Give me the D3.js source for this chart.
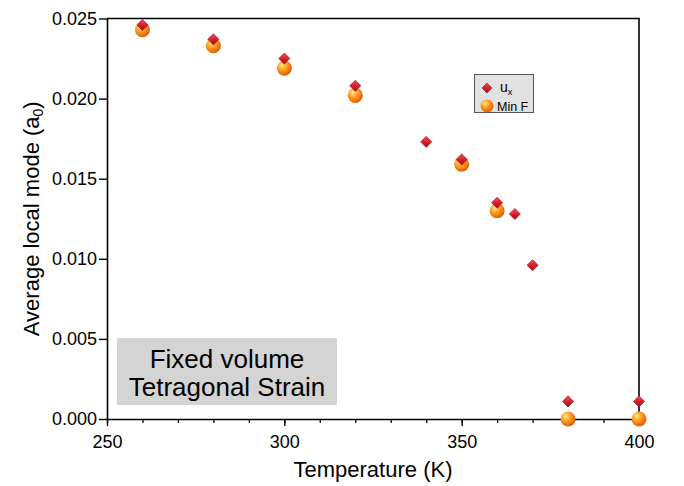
<!DOCTYPE html>
<html>
<head>
<meta charset="utf-8">
<script src="https://cdn.jsdelivr.net/npm/d3@7"></script>
<style>
    body { margin: 0; background: #fff; }
    svg text { font-family: Arial, "Liberation Sans", sans-serif; fill: #000; }
</style>
</head>
<body>
<div id="chart"></div>
<script>
// Local mode amplitude vs temperature
const uxTemps = [260, 280, 300, 320, 340, 350, 360, 365, 370, 380, 400];
const uxValues = [0.0246, 0.0237, 0.0225, 0.0208, 0.0173, 0.0162, 0.0135, 0.0128, 0.0096, 0.0011, 0.0011];
const minFTemps = [260, 280, 300, 320, 350, 360, 380, 400];
const minFValues = [0.0243, 0.0233, 0.0219, 0.0202, 0.0159, 0.0130, 0, 0];
const xTicks = [250, 300, 350, 400];
const xMinorTicks = d3.range(250, 401, 10);
const yTicks = [0, 0.005, 0.010, 0.015, 0.020, 0.025];

const width = 684, height = 486;

const svg = d3.select("#chart").append("svg")
    .attr("width", width)
    .attr("height", height);

const defs = svg.append("defs");

// shiny orange ball
const ballGrad = defs.append("radialGradient")
    .attr("id", "ball")
    .attr("cx", "38%").attr("cy", "35%").attr("r", "70%")
    .attr("fx", "35%").attr("fy", "30%");
ballGrad.append("stop").attr("offset", "0%").attr("stop-color", "#fff0a0");
ballGrad.append("stop").attr("offset", "30%").attr("stop-color", "#ffb43a");
ballGrad.append("stop").attr("offset", "70%").attr("stop-color", "#f47a12");
ballGrad.append("stop").attr("offset", "100%").attr("stop-color", "#d45a05");

// red bevelled diamond
const diaGrad = defs.append("linearGradient")
    .attr("id", "diamond")
    .attr("x1", "0%").attr("y1", "0%").attr("x2", "100%").attr("y2", "100%");
diaGrad.append("stop").attr("offset", "0%").attr("stop-color", "#f4505a");
diaGrad.append("stop").attr("offset", "50%").attr("stop-color", "#d8222e");
diaGrad.append("stop").attr("offset", "100%").attr("stop-color", "#9a0c16");

const x = d3.scaleLinear().domain([250, 400]).range([107, 639]);
const y = d3.scaleLinear().domain([0, 0.025]).range([419, 18.5]);

// minor x ticks
svg.append("g")
    .attr("transform", `translate(0,${y(0)})`)
    .call(d3.axisBottom(x).tickValues(xMinorTicks).tickSize(4).tickFormat("").tickSizeOuter(0))
    .call(g => g.select(".domain").remove())
    .call(g => g.selectAll("line").attr("stroke", "#000").attr("stroke-width", 1.3));

// major x axis
svg.append("g")
    .attr("transform", `translate(0,${y(0)})`)
    .call(d3.axisBottom(x).tickValues(xTicks).tickSize(7).tickPadding(9).tickSizeOuter(0))
    .call(g => g.select(".domain").attr("stroke-width", 1.6))
    .call(g => g.selectAll("line").attr("stroke-width", 1.4))
    .call(g => g.selectAll("text").attr("font-size", 18).attr("font-family", "Arial, 'Liberation Sans', sans-serif"));

// y axis
svg.append("g")
    .attr("transform", `translate(${x(250)},0)`)
    .call(d3.axisLeft(y).tickValues(yTicks).tickFormat(d3.format(".3f")).tickSize(8).tickPadding(2).tickSizeOuter(0))
    .call(g => g.select(".domain").attr("stroke-width", 1.6))
    .call(g => g.selectAll("line").attr("stroke-width", 1.4))
    .call(g => g.selectAll("text").attr("font-size", 18).attr("font-family", "Arial, 'Liberation Sans', sans-serif"));

// top and right frame
svg.append("path")
    .attr("d", `M${x(250)},${y(0.025)}H${x(400)}V${y(0)}`)
    .attr("fill", "none")
    .attr("stroke", "#000")
    .attr("stroke-width", 1.6);

// axis titles
svg.append("text")
    .attr("x", (x(250) + x(400)) / 2)
    .attr("y", 477)
    .attr("text-anchor", "middle")
    .attr("font-size", 22)
    .text("Temperature (K)");

const yTitle = svg.append("text")
    .attr("transform", `translate(39,${(y(0) + y(0.025)) / 2}) rotate(-90)`)
    .attr("text-anchor", "middle")
    .attr("font-size", 22);
yTitle.append("tspan").text("Average local mode (a");
yTitle.append("tspan").attr("font-size", 14).attr("dy", 4).text("0");
yTitle.append("tspan").attr("dy", -4).text(")");

// annotation box
const note = svg.append("g");
note.append("rect")
    .attr("x", 117).attr("y", 338)
    .attr("width", 220).attr("height", 67)
    .attr("fill", "#d4d4d4");
note.append("text")
    .attr("x", 227).attr("y", 368)
    .attr("text-anchor", "middle")
    .attr("font-size", 26)
    .text("Fixed volume");
note.append("text")
    .attr("x", 227).attr("y", 396)
    .attr("text-anchor", "middle")
    .attr("font-size", 26)
    .text("Tetragonal Strain");

const minF = minFTemps.map((t, i) => ({ t, v: minFValues[i] }));
const ux = uxTemps.map((t, i) => ({ t, v: uxValues[i] }));

const diamondPath = d3.symbol().type(d3.symbolSquare).size(62)();

// Min F balls
svg.selectAll(".ball")
    .data(minF)
    .enter()
    .append("circle")
    .attr("class", "ball")
    .attr("cx", d => x(d.t))
    .attr("cy", d => y(d.v))
    .attr("r", 7.5)
    .attr("fill", "url(#ball)");

// u_x diamonds on top
svg.selectAll(".dia")
    .data(ux)
    .enter()
    .append("path")
    .attr("class", "dia")
    .attr("d", diamondPath)
    .attr("transform", d => `translate(${x(d.t)},${y(d.v)}) rotate(45)`)
    .attr("fill", "url(#diamond)")
    .attr("stroke", "#a3101a")
    .attr("stroke-width", 0.6);

// legend
const legend = svg.append("g").attr("class", "legend");
legend.append("rect")
    .attr("x", 474.5).attr("y", 74.5)
    .attr("width", 59).attr("height", 38)
    .attr("fill", "#e2e2e2")
    .attr("stroke", "#555")
    .attr("stroke-width", 1);
legend.append("path")
    .attr("d", d3.symbol().type(d3.symbolSquare).size(50)())
    .attr("transform", "translate(487,88) rotate(45)")
    .attr("fill", "url(#diamond)")
    .attr("stroke", "#a3101a")
    .attr("stroke-width", 0.6);
legend.append("circle")
    .attr("cx", 487).attr("cy", 106)
    .attr("r", 6.5)
    .attr("fill", "url(#ball)");
const uxLabel = legend.append("text")
    .attr("x", 500).attr("y", 92)
    .attr("font-size", 14);
uxLabel.append("tspan").text("u");
uxLabel.append("tspan").attr("font-size", 9).attr("dy", 3).text("x");
legend.append("text")
    .attr("x", 497).attr("y", 111)
    .attr("font-size", 12.5)
    .text("Min F");
</script>
</body>
</html>
